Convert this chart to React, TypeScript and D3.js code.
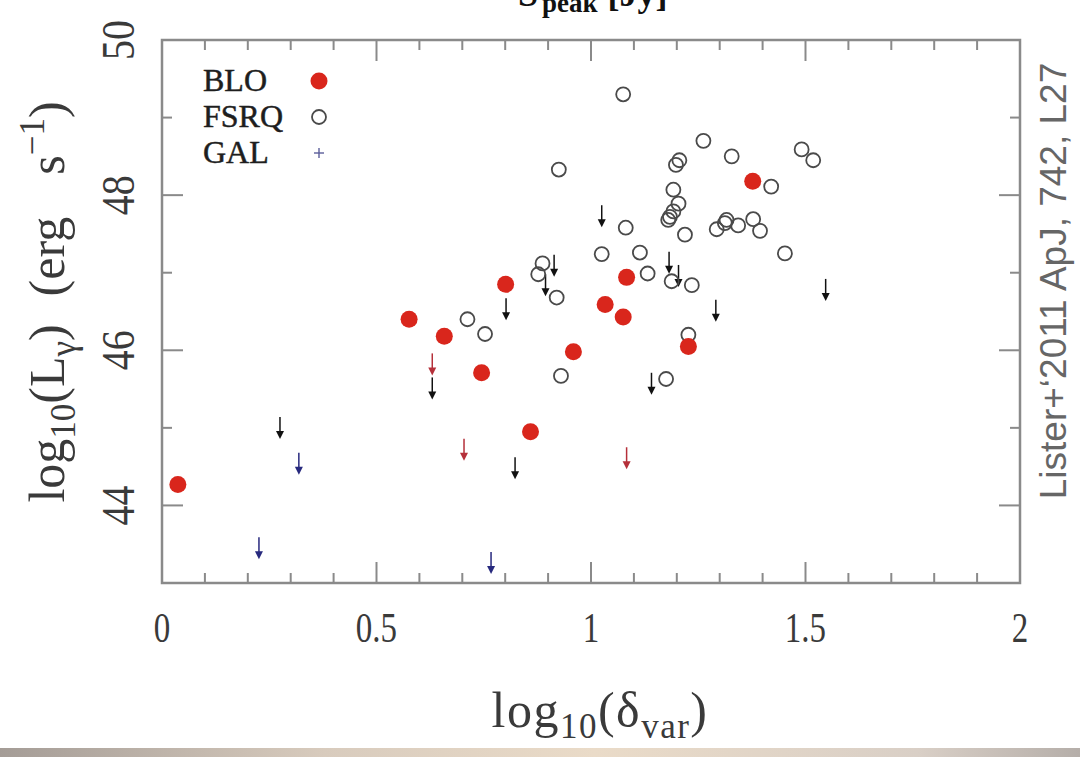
import React from "react";
import * as d3 from "d3";

// Gamma-ray luminosity vs variability Doppler factor (MOJAVE sample)
const W = 1080;
const H = 757;

const X_DOMAIN: [number, number] = [0, 2];
const Y_DOMAIN: [number, number] = [43, 50];
const X_TICKS = [0, 0.5, 1, 1.5, 2];
const X_TICK_LABELS = ["0", "0.5", "1", "1.5", "2"];
const Y_TICKS = [44, 46, 48, 50];
const Y_TICK_LABELS = ["44", "46", "48", "50"];

// BL Lac objects (detections)
const BLO_X = [0.037, 0.576, 0.658, 0.745, 0.801, 0.859, 0.959, 1.083, 1.033, 1.075, 1.377, 1.227];
const BLO_Y = [44.27, 46.4, 46.18, 45.71, 46.85, 44.95, 45.98, 46.94, 46.59, 46.43, 48.18, 46.05];

// Flat-spectrum radio quasars (detections)
const FSRQ_X = [
  0.712, 0.753, 0.92, 0.93, 0.925, 1.081, 1.025, 1.114, 1.132, 0.887, 0.877, 1.206,
  1.198, 1.192, 1.204, 1.192, 1.184, 1.18, 1.219, 1.188, 1.235, 1.075, 1.262, 1.328,
  1.491, 1.518, 1.42, 1.316, 1.312, 1.293, 1.343, 1.378, 1.394, 1.452, 1.227, 1.175,
];
const FSRQ_Y = [
  46.4, 46.21, 46.68, 45.67, 48.33, 47.58, 47.24, 47.26, 46.99, 47.12, 46.98, 48.45,
  48.39, 48.07, 47.89, 47.79, 47.72, 47.68, 47.49, 46.89, 46.84, 49.3, 48.7, 48.5,
  48.59, 48.45, 48.11, 47.68, 47.64, 47.56, 47.61, 47.69, 47.54, 47.25, 46.2, 45.63,
];

// Upper limits (non-detections), by class
const LIM_FSRQ_X = [0.275, 0.63, 0.802, 0.823, 0.914, 0.894, 1.025, 1.182, 1.204, 1.141, 1.291, 1.547];
const LIM_FSRQ_Y = [45.14, 45.65, 46.67, 44.62, 47.23, 46.98, 47.87, 47.27, 47.1, 45.71, 46.65, 46.92];
const LIM_BLO_X = [0.63, 0.704, 1.083];
const LIM_BLO_Y = [45.96, 44.86, 44.75];
const LIM_GAL_X = [0.319, 0.226, 0.767];
const LIM_GAL_Y = [44.68, 43.59, 43.4];

const LEGEND = ["BLO", "FSRQ", "GAL"];

const M = { left: 162, right: 1020, top: 40, bottom: 583 };

const RED = "#d9261c";
const FRAME = "#8a8a8a";
const INK = "#3a3a3a";
const SERIF = "'Liberation Serif', 'DejaVu Serif', serif";

function Arrow({ x, y, color }: { x: number; y: number; color: string }) {
  return (
    <g>
      <line x1={x} y1={y} x2={x} y2={y + 16} stroke={color} strokeWidth={1.5} />
      <path d={`M${x - 4},${y + 14} L${x + 4},${y + 14} L${x},${y + 22} Z`} fill={color} />
    </g>
  );
}

export default function App() {
  const x = d3.scaleLinear().domain(X_DOMAIN).range([M.left, M.right]);
  const y = d3.scaleLinear().domain(Y_DOMAIN).range([M.bottom, M.top]);

  const xMinor = d3.range(0, 2.0001, 0.1).map((v) => +v.toFixed(1));
  const yMinor = d3.range(43, 50.0001, 1);

  const blo = BLO_X.map((v, i) => ({ x: v, y: BLO_Y[i] }));
  const fsrq = FSRQ_X.map((v, i) => ({ x: v, y: FSRQ_Y[i] }));
  const limF = LIM_FSRQ_X.map((v, i) => ({ x: v, y: LIM_FSRQ_Y[i] }));
  const limB = LIM_BLO_X.map((v, i) => ({ x: v, y: LIM_BLO_Y[i] }));
  const limG = LIM_GAL_X.map((v, i) => ({ x: v, y: LIM_GAL_Y[i] }));

  const isMajorX = (v: number) => Math.abs(v * 2 - Math.round(v * 2)) < 1e-6;
  const isMajorY = (v: number) => v % 2 === 0;

  return (
    <svg
      width={W}
      height={H}
      viewBox={`0 0 ${W} ${H}`}
      style={{ position: "absolute", left: 0, top: 0, background: "#fff" }}
    >
      <defs>
        <linearGradient id="band" x1="0" x2="1" y1="0" y2="0">
          <stop offset="0" stopColor="#a49c96" />
          <stop offset="0.3" stopColor="#d8cbbd" />
          <stop offset="0.55" stopColor="#eadbc8" />
          <stop offset="0.85" stopColor="#d9cfc6" />
          <stop offset="1" stopColor="#b5aea9" />
        </linearGradient>
      </defs>
      <rect x={0} y={0} width={W} height={H} fill="#fff" />

      {/* heading of the panel above, cut by the top edge */}
      <text x={518} y={6} fontFamily={SERIF} fontWeight="bold" fontSize={36} fill="#111">
        S
        <tspan fontSize={27} dx={4} dy={6}>peak</tspan>
        <tspan fontSize={36} dx={10} dy={-6}>[Jy]</tspan>
      </text>

      {/* frame */}
      <rect
        x={M.left}
        y={M.top}
        width={M.right - M.left}
        height={M.bottom - M.top}
        fill="none"
        stroke={FRAME}
        strokeWidth={2.5}
      />

      {/* x ticks, bottom and top */}
      {xMinor.map((v) => {
        const len = isMajorX(v) ? 21 : 10;
        return (
          <g key={`xt${v}`} stroke={FRAME} strokeWidth={2}>
            <line x1={x(v)} x2={x(v)} y1={M.bottom} y2={M.bottom - len} />
            <line x1={x(v)} x2={x(v)} y1={M.top} y2={M.top + len} />
          </g>
        );
      })}
      {/* y ticks, left and right */}
      {yMinor.map((v) => {
        const len = isMajorY(v) ? 21 : 10;
        return (
          <g key={`yt${v}`} stroke={FRAME} strokeWidth={2}>
            <line x1={M.left} x2={M.left + len} y1={y(v)} y2={y(v)} />
            <line x1={M.right} x2={M.right - len} y1={y(v)} y2={y(v)} />
          </g>
        );
      })}

      {/* tick labels */}
      {X_TICKS.map((v, i) => (
        <text
          key={`xl${v}`}
          transform={`translate(${x(v)},642) scale(1,1.3)`}
          textAnchor="middle"
          fontFamily={SERIF}
          fontSize={33}
          fill={INK}
        >
          {X_TICK_LABELS[i]}
        </text>
      ))}
      {Y_TICKS.map((v, i) => (
        <text
          key={`yl${v}`}
          transform={`translate(134,${y(v)}) rotate(-90) scale(1,1.15)`}
          textAnchor="middle"
          fontFamily={SERIF}
          fontSize={40}
          fill={INK}
        >
          {Y_TICK_LABELS[i]}
        </text>
      ))}

      {/* axis titles */}
      <text
        x={600}
        y={727}
        textAnchor="middle"
        fontFamily={SERIF}
        fontSize={50}
        letterSpacing={1.5}
        fill={INK}
      >
        log
        <tspan fontSize={35} dy={11}>10</tspan>
        <tspan dy={-11}>(δ</tspan>
        <tspan fontSize={35} dy={11}>var</tspan>
        <tspan dy={-11}>)</tspan>
      </text>
      <text
        transform="translate(64,302) rotate(-90)"
        textAnchor="middle"
        fontFamily={SERIF}
        fontSize={50}
        fill={INK}
      >
        log
        <tspan fontSize={35} dy={11}>10</tspan>
        <tspan dy={-11}>(L</tspan>
        <tspan fontSize={35} dy={11}>γ</tspan>
        <tspan dy={-11}>)</tspan>
        <tspan dx={28}>(erg</tspan>
        <tspan dx={42}>s</tspan>
        <tspan fontSize={35} dy={-20}>−1</tspan>
        <tspan dy={20}>)</tspan>
      </text>

      {/* upper limits */}
      {limF.map((d, i) => (
        <Arrow key={`lf${i}`} x={x(d.x)} y={y(d.y)} color="#111" />
      ))}
      {limB.map((d, i) => (
        <Arrow key={`lb${i}`} x={x(d.x)} y={y(d.y)} color="#b5303a" />
      ))}
      {limG.map((d, i) => (
        <Arrow key={`lg${i}`} x={x(d.x)} y={y(d.y)} color="#27297e" />
      ))}

      {/* FSRQ */}
      {fsrq.map((d, i) => (
        <circle
          key={`f${i}`}
          cx={x(d.x)}
          cy={y(d.y)}
          r={7}
          fill="none"
          stroke="#4a4a4a"
          strokeWidth={1.8}
        />
      ))}
      {/* BLO */}
      {blo.map((d, i) => (
        <circle key={`b${i}`} cx={x(d.x)} cy={y(d.y)} r={8.5} fill={RED} />
      ))}

      {/* legend */}
      {LEGEND.map((name, i) => {
        const ly = 81 + i * 36;
        return (
          <g key={name}>
            <text
              x={203}
              y={ly + 10}
              fontFamily={SERIF}
              fontSize={32}
              fill="#1e1e1e"
              stroke="#1e1e1e"
              strokeWidth={0.5}
            >
              {name}
            </text>
            {i === 0 && <circle cx={319} cy={ly} r={8.5} fill={RED} />}
            {i === 1 && (
              <circle cx={319} cy={ly} r={7} fill="none" stroke="#4a4a4a" strokeWidth={1.8} />
            )}
            {i === 2 && (
              <g stroke="#5b5d9a" strokeWidth={1.4}>
                <line x1={314} x2={324} y1={ly} y2={ly} />
                <line x1={319} x2={319} y1={ly - 5} y2={ly + 5} />
              </g>
            )}
          </g>
        );
      })}

      {/* citation */}
      <text
        transform="translate(1066,281) rotate(-90)"
        textAnchor="middle"
        fontFamily="'Liberation Sans', Arial, sans-serif"
        fontSize={37}
        fill="#666"
      >
        Lister+‘2011 ApJ, 742, L27
      </text>

      {/* bottom strip */}
      <rect x={0} y={748} width={W} height={9} fill="url(#band)" />
    </svg>
  );
}
